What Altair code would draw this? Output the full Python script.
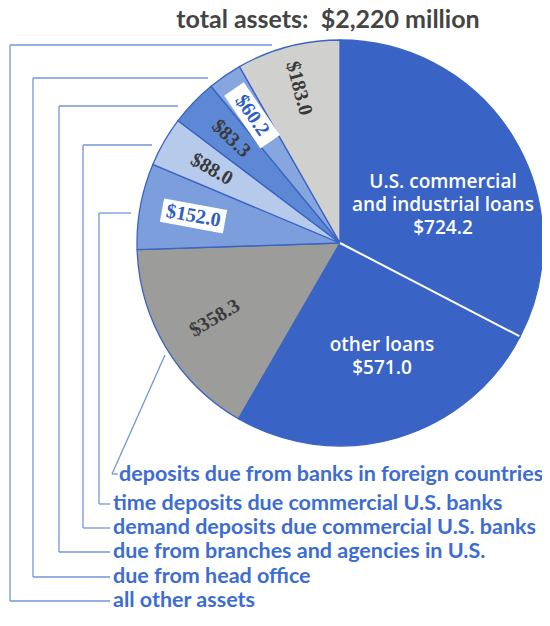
import math
import altair as alt
import pandas as pd

# ---------------- data ----------------
labels = [
    "U.S. commercial and industrial loans",
    "other loans",
    "deposits due from banks in foreign countries",
    "time deposits due commercial U.S. banks",
    "demand deposits due commercial U.S. banks",
    "due from branches and agencies in U.S.",
    "due from head office",
    "all other assets",
]
values = [724.2, 571.0, 358.3, 152.0, 88.0, 83.3, 60.2, 183.0]
value_text = ["$724.2", "$571.0", "$358.3", "$152.0", "$88.0", "$83.3", "$60.2", "$183.0"]
title_text = "total assets:\u00a0\u00a0$2,220 million"
big_lines = [["U.S. commercial", "and industrial loans", "$724.2"], ["other loans", "$571.0"]]
# legend rows, top to bottom (index into labels)
legend_order = [2, 3, 4, 5, 6, 7]

# ---------------- styles / layout ----------------
fills = ["#3a63c6", "#3a63c6", "#9c9c9a", "#7c9edd", "#b6caeb", "#5d88d5", "#87a6df", "#d0d0ce"]
EDGE = "#3a64c3"
LEAD = "#7396d8"
LEG_TXT = "#3d6cd2"
OFF = 8
W, H = 550, 626
CX, CY, R = 340, 243, 203
label_r = [0, 0, 146, 149, 148, 151, 155, 160]
boxed = [3, 6]

total = sum(values)
cum = []
s = 0.0
for v in values:
    cum.append(s)
    s += v
mids = [(c + v / 2) / total * 360 for c, v in zip(cum, values)]

df = pd.DataFrame({"label": labels, "value": values, "order": list(range(len(values)))})

arcs = alt.Chart(df).mark_arc(outerRadius=R, stroke=EDGE, strokeWidth=1.3).encode(
    theta=alt.Theta("value:Q", stack=True),
    order=alt.Order("order:Q"),
    color=alt.Color("label:N", scale=alt.Scale(domain=labels, range=fills), legend=None),
    x=alt.value(CX),
    y=alt.value(CY),
)

# white separator between the two loan slices
b = cum[1] / total * 2 * math.pi
sep = pd.DataFrame({"x1": [CX], "y1": [CY],
                    "x2": [CX + (R - 1) * math.sin(b)], "y2": [CY - (R - 1) * math.cos(b)]})
sep_rule = alt.Chart(sep).mark_rule(color="white", strokeWidth=2).encode(
    x=alt.X("x1:Q", scale=None, axis=None), y=alt.Y("y1:Q", scale=None, axis=None),
    x2="x2:Q", y2="y2:Q")

# slice value labels (small slices)
rows = []
for i in range(2, len(values)):
    a = math.radians(mids[i])
    rows.append({
        "x": CX + label_r[i] * math.sin(a),
        "y": CY - label_r[i] * math.cos(a),
        "t": value_text[i],
        "rot": (mids[i] - 270) % 360,
        "c": "#2f5ec2" if i in boxed else "#3a3a3a",
        "boxed": i in boxed,
    })
ldf = pd.DataFrame(rows)

boxes = alt.Chart(ldf[ldf["boxed"]]).mark_point(
    shape="M-1,-0.37L1,-0.37L1,0.37L-1,0.37Z", filled=True, fill="white", opacity=1,
    strokeWidth=0, size=64 * 64).encode(
    x=alt.X("x:Q", scale=None, axis=None), y=alt.Y("y:Q", scale=None, axis=None),
    angle=alt.Angle("rot:Q", scale=None))

vlabels = alt.Chart(ldf).mark_text(font="Liberation Serif", fontWeight="bold", fontSize=20,
                                   baseline="middle", align="center").encode(
    x=alt.X("x:Q", scale=None, axis=None), y=alt.Y("y:Q", scale=None, axis=None),
    text="t:N", angle=alt.Angle("rot:Q", scale=None), color=alt.Color("c:N", scale=None))

# big slice labels (one multi-line text per slice)
big_top = [(443, 182), (382, 345)]
bdf = pd.DataFrame({"x": [p[0] for p in big_top], "y": [p[1] for p in big_top],
                    "t": ["\n".join(l) for l in big_lines]})
blabels = alt.Chart(bdf).mark_text(font="Open Sans", fontWeight=600, fontSize=19, color="white",
                                   align="center", baseline="middle", lineBreak="\n",
                                   lineHeight=23).encode(
    x=alt.X("x:Q", scale=None, axis=None), y=alt.Y("y:Q", scale=None, axis=None), text="t:N")

# title
tdf = pd.DataFrame({"x": [328], "y": [28], "t": [title_text]})
title = alt.Chart(tdf).mark_text(font="Lato", fontWeight="bold", fontSize=25, color="#444444",
                                 align="center", baseline="alphabetic").encode(
    x=alt.X("x:Q", scale=None, axis=None), y=alt.Y("y:Q", scale=None, axis=None), text="t:N")

# legend text rows
leg_y = [475, 504, 528, 552, 577, 601]
leg_x = [119, 113, 113, 113, 113, 113]
legdf = pd.DataFrame({"x": leg_x, "y": leg_y, "t": [labels[i] for i in legend_order]})
legend = alt.Chart(legdf).mark_text(font="Lato", fontWeight="bold", fontSize=21.5, color=LEG_TXT,
                                    align="left", baseline="middle").encode(
    x=alt.X("x:Q", scale=None, axis=None), y=alt.Y("y:Q", scale=None, axis=None), text="t:N")

# leader lines
vert_x = {3: 99, 4: 83, 5: 59, 6: 33, 7: 10}
top_y = {3: 213, 4: 145, 5: 106, 6: 78, 7: 45}
end_x = {3: 131, 4: 152, 5: 178, 6: 208, 7: 272}
segs = []
for row, i in enumerate(legend_order):
    if i == 2:
        pts = [(165, 355), (112, 474), (118, 474)]
        for p, q in zip(pts[:-1], pts[1:]):
            segs.append((p[0], p[1], q[0], q[1]))
        continue
    vx, ty, by = vert_x[i], top_y[i], leg_y[row]
    segs.append((vx, ty, end_x[i], ty))
    segs.append((vx, ty, vx, by))
    segs.append((vx, by, 110, by))
segdf = pd.DataFrame(segs, columns=["x1", "y1", "x2", "y2"])
leaders = alt.Chart(segdf).mark_rule(color=LEAD, strokeWidth=1.3).encode(
    x=alt.X("x1:Q", scale=None, axis=None), y=alt.Y("y1:Q", scale=None, axis=None),
    x2="x2:Q", y2="y2:Q")

chart = alt.layer(arcs, sep_rule, leaders, boxes, vlabels, blabels, title, legend).properties(
    width=W, height=H, autosize=alt.AutoSizeParams(type="none"),
    padding={"left": -OFF, "top": -OFF, "right": -OFF, "bottom": -OFF}
).configure_view(stroke=None)

chart.save("out.html", embed_options={"renderer": "svg", "actions": False})
